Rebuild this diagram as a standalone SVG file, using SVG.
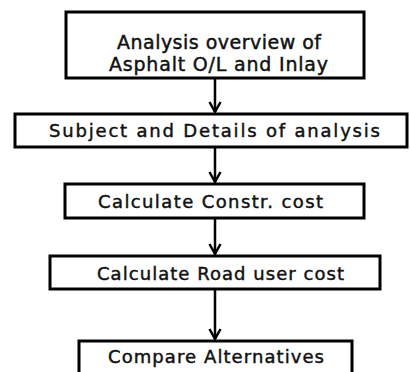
<svg xmlns="http://www.w3.org/2000/svg" width="410" height="372" viewBox="0 0 410 372">
<style>
.box{fill:#fff;stroke:#000;stroke-width:3}
.t{font-family:"DejaVu Sans","Open Sans",sans-serif;font-weight:normal;fill:#111;stroke:#111;stroke-width:0.45;font-size:18px}
.big{font-size:19px}
.con{stroke:#000;stroke-width:2.5;fill:none}
</style>
<defs>
<marker id="ah" markerUnits="userSpaceOnUse" markerWidth="16" markerHeight="16" viewBox="-13 -8 16 16" refX="0" refY="0" orient="auto">
<path d="M-10,-5.5 L0,0 L-10,5.5" fill="none" stroke="#000" stroke-width="2.5"/>
</marker>
</defs>
<rect width="410" height="372" fill="#fff"/>
<g id="connectors">
<line class="con" x1="215" y1="79" x2="215" y2="112" marker-end="url(#ah)"/>
<line class="con" x1="215" y1="147" x2="215" y2="182" marker-end="url(#ah)"/>
<line class="con" x1="215" y1="218" x2="215" y2="254" marker-end="url(#ah)"/>
<line class="con" x1="215" y1="289" x2="215" y2="339" marker-end="url(#ah)"/>
</g>
<g id="n1">
<rect class="box" x="66" y="12" width="298" height="66"/>
<text class="t big" x="117" y="49" textLength="204" lengthAdjust="spacing">Analysis overview of</text>
<text class="t big" x="109" y="71" textLength="219" lengthAdjust="spacing">Asphalt O/L and Inlay</text>
</g>
<g id="n2">
<rect class="box" x="15" y="114" width="392" height="33"/>
<text class="t" x="49" y="137" textLength="331" lengthAdjust="spacing">Subject and Details of analysis</text>
</g>
<g id="n3">
<rect class="box" x="65" y="184" width="299" height="34"/>
<text class="t" x="98" y="208" textLength="225" lengthAdjust="spacing">Calculate Constr. cost</text>
</g>
<g id="n4">
<rect class="box" x="50" y="256" width="330" height="33"/>
<text class="t" x="97" y="280" textLength="247" lengthAdjust="spacing">Calculate Road user cost</text>
</g>
<g id="n5">
<rect class="box" x="79" y="341" width="273" height="40"/>
<text class="t" x="108" y="363" textLength="216" lengthAdjust="spacing">Compare Alternatives</text>
</g>
</svg>
